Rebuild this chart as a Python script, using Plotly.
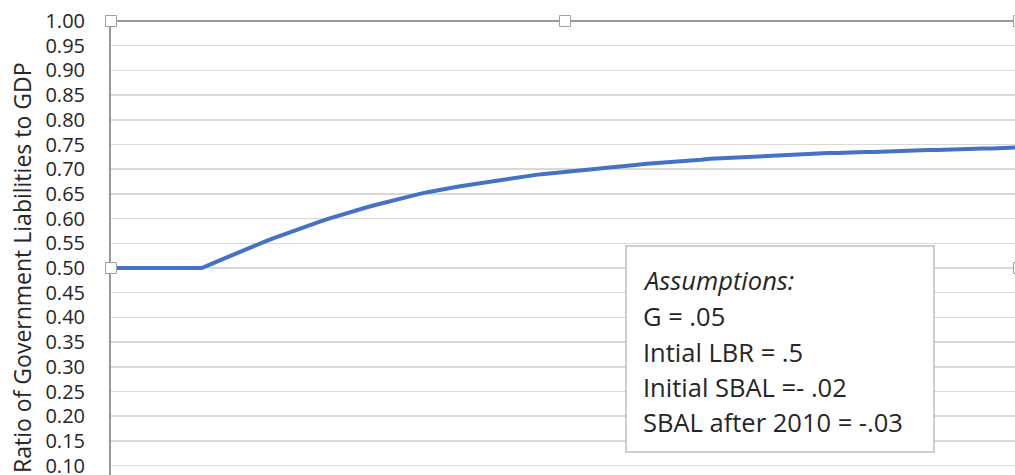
import plotly.graph_objects as go

# ---- data ----
years = list(range(2000, 2101))
lbr = [
    0.500, 0.500, 0.500, 0.500, 0.500, 0.500, 0.500, 0.500, 0.500, 0.500,  # 2000-2009
    0.500, 0.508, 0.516, 0.524, 0.532, 0.540, 0.547, 0.554, 0.561, 0.568,  # 2010-2019
    0.575, 0.582, 0.588, 0.594, 0.600, 0.606, 0.612, 0.617, 0.622, 0.627,  # 2020-2029
    0.632, 0.637, 0.642, 0.646, 0.650, 0.654, 0.658, 0.661, 0.664, 0.667,  # 2030-2039
    0.670, 0.673, 0.676, 0.679, 0.681, 0.684, 0.687, 0.689, 0.691, 0.693,  # 2040-2049
    0.695, 0.697, 0.699, 0.701, 0.703, 0.705, 0.706, 0.708, 0.709, 0.711,  # 2050-2059
    0.712, 0.714, 0.715, 0.716, 0.718, 0.719, 0.721, 0.722, 0.723, 0.724,  # 2060-2069
    0.725, 0.726, 0.727, 0.728, 0.729, 0.730, 0.731, 0.731, 0.732, 0.733,  # 2070-2079
    0.733, 0.734, 0.734, 0.735, 0.735, 0.736, 0.736, 0.737, 0.738, 0.738,  # 2080-2089
    0.739, 0.739, 0.740, 0.740, 0.741, 0.741, 0.742, 0.742, 0.743, 0.743,  # 2090-2099
    0.744,                                                                 # 2100
]
y_tickvals = [0.10, 0.15, 0.20, 0.25, 0.30, 0.35, 0.40, 0.45, 0.50,
              0.55, 0.60, 0.65, 0.70, 0.75, 0.80, 0.85, 0.90, 0.95, 1.00]
y_ticktext = ["0.10", "0.15", "0.20", "0.25", "0.30", "0.35", "0.40", "0.45", "0.50",
              "0.55", "0.60", "0.65", "0.70", "0.75", "0.80", "0.85", "0.90", "0.95", "1.00"]
y_title = "Ratio of Government Liabilities to GDP"
assumption_lines = [
    "<i>Assumptions:</i>",
    "G = .05",
    "Intial LBR = .5",
    "Initial SBAL =- .02",
    "SBAL after 2010 = -.03",
]

# ---- layout geometry (pixels in a 1015x475 page) ----
W, H = 1015, 475
L, T = 111, 21
PW, PH = W - L, H - T          # plot area size
FULL_W = 908                   # full plot width in the original (part cropped)


def px_x(px):
    return (px - L) / PW


def px_y(py):
    return (H - py) / PH


FONT = "'Open Sans', Lato, sans-serif"
TXT = "#262626"

fig = go.Figure()
fig.add_trace(go.Scatter(
    x=years, y=lbr, mode="lines",
    line=dict(color="#4472C4", width=4),
    hoverinfo="skip", showlegend=False,
))

x_end = years[0] + (years[-1] - years[0]) * PW / FULL_W

shapes = []
# assumptions box
shapes.append(dict(type="rect", xref="paper", yref="paper",
                   x0=px_x(626), x1=px_x(934), y0=px_y(452), y1=px_y(246),
                   fillcolor="white", line=dict(color="#BFBFBF", width=1.5),
                   layer="above"))
# top border of the selected plot area
shapes.append(dict(type="line", xref="paper", yref="paper",
                   x0=0, x1=1.01, y0=1, y1=1,
                   line=dict(color="#9A9A9A", width=2)))
# selection handles
hs = 5.5
for hx, hy in [(111, 21), (565, 21), (1019, 21), (111, 268), (1019, 268)]:
    shapes.append(dict(type="rect", xref="paper", yref="paper",
                       x0=px_x(hx - hs), x1=px_x(hx + hs),
                       y0=px_y(hy + hs), y1=px_y(hy - hs),
                       fillcolor="white", line=dict(color="#A0A0A0", width=1),
                       layer="above"))

annotations = []
line_y = [280, 315.5, 351.5, 387, 422]
for txt, ly in zip(assumption_lines, line_y):
    annotations.append(dict(xref="paper", yref="paper", x=px_x(641), y=px_y(ly),
                            xanchor="left", yanchor="middle", showarrow=False,
                            text=txt, font=dict(family=FONT, size=25.5, color=TXT)))
annotations.append(dict(xref="paper", yref="paper", x=px_x(22), y=px_y(268),
                        xanchor="center", yanchor="middle", showarrow=False,
                        textangle=-90, text=y_title,
                        font=dict(family=FONT, size=23, color=TXT)))

fig.update_layout(
    width=W, height=H,
    margin=dict(l=L, r=0, t=T, b=0, pad=0, autoexpand=False),
    paper_bgcolor="white", plot_bgcolor="white",
    shapes=shapes, annotations=annotations,
    xaxis=dict(range=[years[0], x_end], showgrid=False, zeroline=False,
               showticklabels=False, showline=False, ticks="",
               automargin=False),
    yaxis=dict(range=[1.0 - PH / 494.0, 1.0],
               tickmode="array", tickvals=y_tickvals, ticktext=y_ticktext,
               showgrid=True, gridcolor="#D9D9D9",
               gridwidth=1.5, zeroline=False, showline=True,
               linecolor="#9A9A9A", linewidth=2, ticks="",
               ticklabelstandoff=20, automargin=False,
               ticklabeloverflow="allow",
               tickfont=dict(family=FONT, size=20, color=TXT)),
)

fig.write_html(
    "out.html",
    config={"displayModeBar": False, "staticPlot": True},
    post_script="document.body.style.margin='0';document.body.style.overflow='hidden';",
)
